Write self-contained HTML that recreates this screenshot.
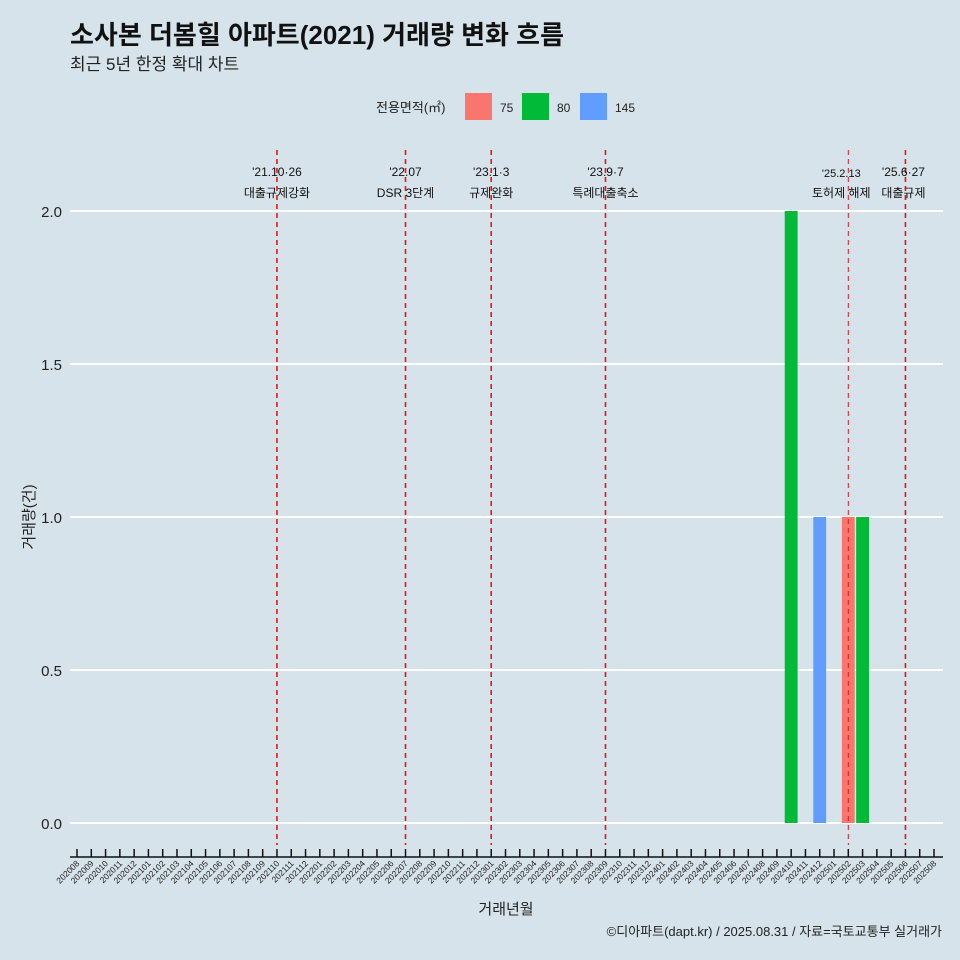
<!DOCTYPE html>
<html><head><meta charset="utf-8">
<style>
html,body{margin:0;padding:0;background:#d6e3ea;}
svg{display:block;font-family:"Liberation Sans","Noto Sans CJK KR",sans-serif;}
</style></head>
<body>
<svg id="chart" width="960" height="960" viewBox="0 0 960 960" xmlns="http://www.w3.org/2000/svg">
<rect width="960" height="960" fill="#d6e3ea"/>
<text x="70" y="44" font-size="26" font-weight="bold" fill="#111">소사본 더봄힐 아파트(2021) 거래량 변화 흐름</text>
<text x="70" y="70" font-size="17" fill="#222">최근 5년 한정 확대 차트</text>
<g>
<text x="376" y="112" font-size="13" fill="#222">전용면적(㎡)</text>
<rect x="465" y="93" width="27" height="27" fill="#f8766d"/>
<text x="500" y="112" font-size="12" fill="#222">75</text>
<rect x="522" y="93" width="27" height="27" fill="#00ba38"/>
<text x="557" y="112" font-size="12" fill="#222">80</text>
<rect x="580" y="93" width="27" height="27" fill="#619cff"/>
<text x="615" y="112" font-size="12" fill="#222">145</text>
</g>
<g id="grid"></g><g id="bars"></g><g id="events"></g><g id="xaxis"></g>
<text x="506" y="914" font-size="15" text-anchor="middle" fill="#222">거래년월</text>
<text transform="translate(34,517) rotate(-90)" font-size="15" text-anchor="middle" fill="#222">거래량(건)</text>
<text x="942" y="936" font-size="13" text-anchor="end" fill="#222">©디아파트(dapt.kr) / 2025.08.31 / 자료=국토교통부 실거래가</text>
</svg>
<script>
const months = [];
for (let y = 2020; y <= 2025; y++) for (let m = 1; m <= 12; m++) {
  const s = y + String(m).padStart(2, '0');
  if (s >= '202008' && s <= '202508') months.push(s);
}
const yTicks = [0, 0.5, 1, 1.5, 2];
const yTickLabels = ['0.0', '0.5', '1.0', '1.5', '2.0'];
const seriesNames = ['75', '80', '145'];
const seriesColors = ['#f8766d', '#00ba38', '#619cff'];
const barMonths = ['202410', '202412', '202502', '202503'];
const barSeries = ['80', '145', '75', '80'];
const barValues = [2, 1, 1, 1];
const eventMonths = ['202110', '202207', '202301', '202309', '202502', '202506'];
const eventDates = ["'21.10·26", "'22.07", "'23.1·3", "'23.9·7", "'25.2.13", "'25.6·27"];
const eventNames = ['대출규제강화', 'DSR 3단계', '규제완화', '특례대출축소', '토허제 해제', '대출규제'];

const NS = 'http://www.w3.org/2000/svg';
const x0 = 77, step = (934 - 77) / 60;
const xScale = m => x0 + months.indexOf(m) * step;
const yScale = v => 823 - v * 306;
function mk(tag, attrs, parent) {
  const e = document.createElementNS(NS, tag);
  for (const k in attrs) e.setAttribute(k, attrs[k]);
  document.getElementById(parent).appendChild(e);
  return e;
}
yTicks.forEach((v, i) => {
  const l = mk('line', {x1: 70, x2: 943, y1: yScale(v), y2: yScale(v), stroke: '#fff', 'stroke-width': 2}, 'grid');
  
  
  const t = mk('text', {x: 62, y: yScale(v) + 6, 'font-size': 15, 'text-anchor': 'end', fill: '#222'}, 'grid');
  t.textContent = yTickLabels[i];
  
  
});
barValues.forEach((v, i) => {
  const cx = xScale(barMonths[i]);
  const bw = step * 0.9;
  const r = mk('rect', {x: cx - bw / 2, y: yScale(v), width: bw, height: yScale(0) - yScale(v), fill: seriesColors[seriesNames.indexOf(barSeries[i])]}, 'bars');
  
  
});
eventMonths.forEach((m, i) => {
  const cx = xScale(m);
  const thin = m === '202502';
  const l = mk('line', {x1: cx, x2: cx, y1: 150, y2: 845, stroke: '#e8141c', 'stroke-width': thin ? 1 : 1.6, 'stroke-dasharray': '5,4'}, 'events');
  
  
  let tx = cx;
  if (m === '202502') tx = cx - 7;
  if (m === '202506') tx = cx - 2;
  const d = mk('text', {x: tx, y: thin ? 177 : 176, 'font-size': thin ? 11 : 12, 'text-anchor': 'middle', fill: '#111'}, 'events');
  d.textContent = eventDates[i];
  
  
  const n = mk('text', {x: tx, y: 197, 'font-size': 12, 'text-anchor': 'middle', fill: '#111'}, 'events');
  n.textContent = eventNames[i];
  
  
});
const ax = mk('line', {x1: 70, x2: 943, y1: 857, y2: 857, stroke: '#111', 'stroke-width': 1.5}, 'xaxis');


months.forEach(m => {
  const cx = xScale(m);
  const t = mk('line', {x1: cx, x2: cx, y1: 849, y2: 857, stroke: '#111', 'stroke-width': 1.5}, 'xaxis');
  
  
  const lb = mk('text', {x: cx + 3, y: 864, 'font-size': 8.5, 'text-anchor': 'end', fill: '#222', transform: 'rotate(-45 ' + (cx + 3) + ' 864)'}, 'xaxis');
  lb.textContent = m;
  
  
});
</script>
</body></html>
